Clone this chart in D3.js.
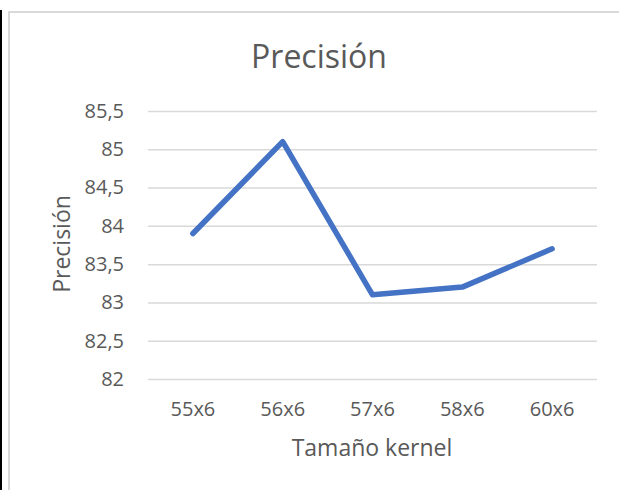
<!DOCTYPE html>
<html>
<head>
<meta charset="utf-8">
<script src="https://cdn.jsdelivr.net/npm/d3@7"></script>
<style>
  html, body { margin: 0; padding: 0; background: #fff; }
  svg { display: block; }
  text { font-family: "Open Sans", "Noto Sans", sans-serif; fill: #595959; }
</style>
</head>
<body>
<svg id="chart" width="619" height="490"></svg>
<script>
// Kernel sizes and the precision obtained with each
const categories = ["55x6", "56x6", "57x6", "58x6", "60x6"];
const precision = [83.9, 85.1, 83.1, 83.2, 83.7];
const yTicks = [82, 82.5, 83, 83.5, 84, 84.5, 85, 85.5];

const svg = d3.select("#chart");
const FONT = "'Open Sans', 'Noto Sans', sans-serif";

// outer frame: dark edge on the left, light chart border
svg.append("line").attr("x1", 1).attr("x2", 1).attr("y1", 10).attr("y2", 490)
  .attr("stroke", "#000").attr("stroke-width", 2);
svg.append("path").attr("d", "M9,490 V12 H619")
  .attr("fill", "none").attr("stroke", "#d9d9d9").attr("stroke-width", 2);

const plot = { left: 148, right: 597, top: 111, bottom: 379 };

const x = d3.scaleBand().domain(categories).range([plot.left, plot.right]);
const y = d3.scaleLinear().domain([82, 85.5]).range([plot.bottom, plot.top]);

// horizontal gridlines
svg.append("g").attr("transform", `translate(${plot.left},0)`)
  .call(d3.axisLeft(y).tickValues(yTicks).tickSize(-(plot.right - plot.left)).tickFormat(""))
  .call(g => g.select(".domain").remove())
  .call(g => g.selectAll("line").attr("stroke", "#d9d9d9").attr("stroke-width", 1.5));

// y tick labels (decimal comma)
const fmt = v => String(v).replace(".", ",");
svg.append("g").attr("transform", `translate(${plot.left},0)`)
  .call(d3.axisLeft(y).tickValues(yTicks).tickSize(0).tickPadding(24).tickFormat(fmt))
  .call(g => g.select(".domain").remove())
  .call(g => g.selectAll("text").attr("font-size", 20).attr("fill", "#595959")
    .style("font-family", FONT));

// x tick labels
svg.append("g").attr("transform", `translate(0,${plot.bottom})`)
  .call(d3.axisBottom(x).tickSize(0).tickPadding(23))
  .call(g => g.select(".domain").remove())
  .call(g => g.selectAll("text").attr("font-size", 20).attr("fill", "#595959")
    .style("font-family", FONT));

// the series line
const line = d3.line()
  .x((d, i) => x(categories[i]) + x.bandwidth() / 2)
  .y(d => y(d));
svg.append("path").datum(precision)
  .attr("d", line)
  .attr("fill", "none")
  .attr("stroke", "#4472c4")
  .attr("stroke-width", 5.5)
  .attr("stroke-linecap", "round")
  .attr("stroke-linejoin", "round");

// titles
svg.append("text").attr("x", 319).attr("y", 68).attr("text-anchor", "middle")
  .attr("font-size", 32).text("Precisión");
svg.append("text").attr("x", 372).attr("y", 456).attr("text-anchor", "middle")
  .attr("font-size", 23).text("Tamaño kernel");
svg.append("text").attr("transform", "translate(70,244) rotate(-90)")
  .attr("text-anchor", "middle").attr("font-size", 23).text("Precisión");
</script>
</body>
</html>
